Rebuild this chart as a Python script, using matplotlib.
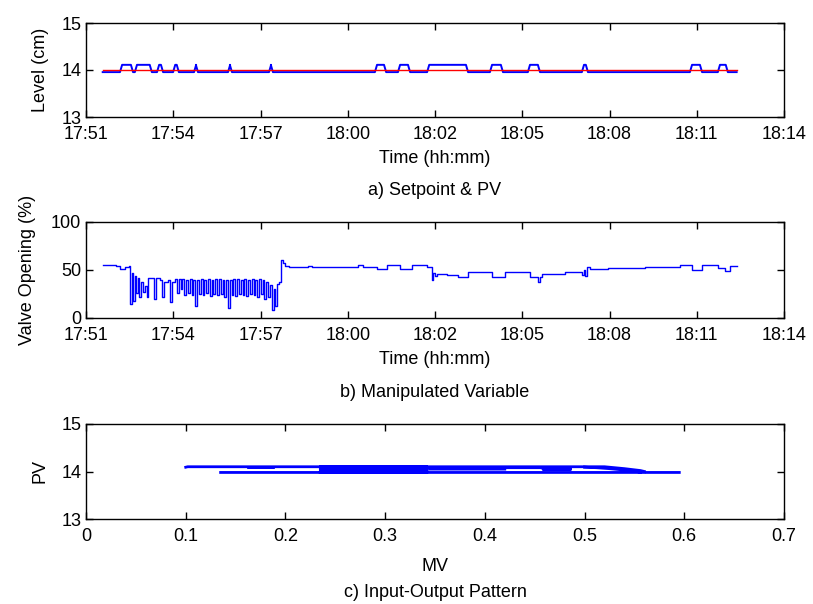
import numpy as np
import matplotlib
matplotlib.use("Agg")
import matplotlib.pyplot as plt

plt.rcParams['font.family'] = ['Liberation Sans', 'DejaVu Sans']

# time axis: minutes after 17:51
time_labels = ['17:51', '17:54', '17:57', '18:00', '18:02', '18:05', '18:08', '18:11', '18:14']
t_start = 0.55
t_end = 21.44
setpoint = 14.0

# PV: baseline level and bumps (minutes)
pv_low = 13.955
pv_high = 14.11
bump_on = [1.12, 1.61, 2.34, 2.87, 3.56, 4.68, 6.03, 9.52, 10.28, 11.24, 13.31, 14.56, 16.34, 19.90, 20.82]
bump_off = [1.55, 2.17, 2.54, 3.06, 3.69, 4.81, 6.16, 9.89, 10.68, 12.59, 13.74, 14.96, 16.54, 20.30, 21.15]

# MV (valve opening %) breakpoints
mv_t = [0.55, 1.00, 1.12, 1.30, 1.42,
        1.45, 1.50, 1.55, 1.60, 1.66, 1.70, 1.76, 1.82, 1.88, 1.94, 2.00, 2.05, 2.25, 2.32,
        2.45, 2.50, 2.56, 2.70, 2.78, 2.84, 2.92, 3.00, 3.05, 3.12, 3.17, 3.24, 3.30, 3.36,
        3.42, 3.48, 3.54, 3.60, 3.66, 3.72, 3.78, 3.84, 3.90, 3.96, 4.02, 4.08, 4.14, 4.20,
        4.26, 4.32, 4.38, 4.44, 4.50, 4.56, 4.62, 4.68, 4.74, 4.80, 4.86, 4.92, 4.98, 5.04,
        5.10, 5.16, 5.22, 5.28, 5.34, 5.40, 5.46, 5.52, 5.58, 5.64, 5.70, 5.76, 5.82, 5.88,
        5.94, 6.00, 6.06, 6.12, 6.18, 6.24, 6.30, 6.36, 6.44, 6.50, 6.56, 6.70, 7.30, 7.45,
        8.04, 8.97, 9.14, 9.58, 9.91, 10.35, 10.73, 11.22, 11.39, 11.44, 11.50, 11.55, 11.88,
        12.27, 12.60, 13.37, 13.81, 14.63, 14.90, 14.97, 15.01, 15.78, 16.33, 16.40, 16.45,
        16.50, 16.61, 17.21, 18.42, 19.57, 19.96, 20.29, 20.83, 21.05, 21.22, 21.44]
mv_v = [55, 54, 51, 53, 54,
        15, 47, 18, 44, 26, 42, 22, 38, 27, 33, 22, 42, 20, 42,
        40, 22, 38, 40, 17, 38, 41, 26, 41, 30, 41, 24, 40, 26,
        41, 24, 40, 13, 40, 25, 41, 24, 40, 26, 41, 23, 40, 25,
        41, 24, 41, 25, 40, 22, 40, 10, 40, 24, 41, 23, 41, 25,
        40, 24, 41, 23, 40, 25, 41, 24, 40, 22, 41, 25, 40, 20,
        38, 22, 34, 8, 30, 12, 35, 38, 60, 57, 54, 53, 54, 53,
        53, 55, 53, 51, 55, 51, 55, 53, 40, 47, 44, 46, 45,
        43, 48, 43, 48, 43, 38, 43, 46, 48, 45, 50, 44,
        53, 51, 52, 53, 55, 50, 55, 52, 49, 54, 54]

# input-output pattern (MV fraction vs PV), segments separated by nan
io_mv = [0.135, 0.595, np.nan,
         0.100, 0.102, 0.520, 0.530, 0.540, 0.548, 0.556, 0.560, np.nan,
         0.163, 0.188, np.nan,
         0.235, 0.342, 0.342, 0.235, 0.235, 0.342, 0.342, 0.235, 0.235, 0.342, 0.342, 0.235,
         0.235, 0.342, 0.342, 0.235, np.nan,
         0.342, 0.456, 0.459, 0.486, 0.486, 0.459, np.nan,
         0.345, 0.420, np.nan,
         0.500, 0.512, 0.525, 0.540, 0.556]
io_pv = [13.98, 13.98, np.nan,
         14.09, 14.10, 14.10, 14.08, 14.06, 14.04, 14.02, 14.00, np.nan,
         14.085, 14.085, np.nan,
         13.98, 13.98, 14.00, 14.00, 14.02, 14.02, 14.04, 14.04, 14.06, 14.06, 14.08, 14.08,
         14.10, 14.10, 14.09, 14.09, np.nan,
         14.08, 14.08, 14.06, 14.06, 14.04, 14.04, np.nan,
         14.05, 14.05, np.nan,
         14.09, 14.08, 14.06, 14.03, 13.99]

# build PV trace from bumps
pv_t = [t_start]
pv_v = [pv_low]
ramp = 0.07
for a, b in zip(bump_on, bump_off):
    pv_t += [a, a + ramp, b - ramp, b]
    pv_v += [pv_low, pv_high, pv_high, pv_low]
pv_t.append(t_end)
pv_v.append(pv_low)

W, H = 813, 604
fig = plt.figure(figsize=(W / 100, H / 100), dpi=100)
fs = 13


def box(top, bottom):
    ax = fig.add_axes([86 / W, 1 - bottom / H, 698 / W, (bottom - top) / H])
    ax.tick_params(direction='in', top=True, right=True, length=5, labelsize=fs, width=1)
    ax.tick_params(axis='x', pad=6.5)
    for s in ax.spines.values():
        s.set_linewidth(1)
    return ax


time_ticks = np.linspace(0, 23, len(time_labels))

# a) setpoint & PV
ax1 = box(23, 117)
ax1.plot(pv_t, pv_v, color='b', lw=1.4)
ax1.plot([t_start, t_end], [setpoint, setpoint], color='r', lw=1.0)
ax1.set_xlim(0, 23)
ax1.set_ylim(13, 15)
ax1.set_yticks([13, 14, 15])
ax1.set_xticks(time_ticks)
ax1.set_xticklabels(time_labels)
ax1.set_xlabel('Time (hh:mm)', fontsize=fs, labelpad=5)
ax1.text(0.5, -0.78, 'a) Setpoint & PV', transform=ax1.transAxes, ha='center', va='center', fontsize=fs)
fig.text(40 / W, 1 - 70 / H, 'Level (cm)', rotation=90, ha='center', va='center', fontsize=fs)

# b) manipulated variable
ax2 = box(222, 318)
ax2.plot(mv_t, mv_v, color='b', lw=1.0, drawstyle='steps-post')
ax2.set_xlim(0, 23)
ax2.set_ylim(0, 100)
ax2.set_yticks([0, 50, 100])
ax2.set_xticks(time_ticks)
ax2.set_xticklabels(time_labels)
ax2.set_xlabel('Time (hh:mm)', fontsize=fs, labelpad=5)
ax2.text(0.5, -0.78, 'b) Manipulated Variable', transform=ax2.transAxes, ha='center', va='center', fontsize=fs)
fig.text(28 / W, 1 - 270 / H, 'Valve Opening (%)', rotation=90, ha='center', va='center', fontsize=fs)

# c) input-output pattern
ax3 = box(424, 519)
ax3.plot(io_mv, io_pv, color='b', lw=2.0)
ax3.set_xlim(0, 0.7)
ax3.set_ylim(13, 15)
ax3.set_yticks([13, 14, 15])
ax3.set_xticks(np.arange(0, 0.71, 0.1))
ax3.set_xticklabels(['0', '0.1', '0.2', '0.3', '0.4', '0.5', '0.6', '0.7'])
ax3.set_xlabel('MV', fontsize=fs, labelpad=9)
ax3.text(0.5, -0.77, 'c) Input-Output Pattern', transform=ax3.transAxes, ha='center', va='center', fontsize=fs)
fig.text(40 / W, 1 - 471 / H, 'PV', rotation=90, ha='center', va='center', fontsize=fs)

fig.savefig('out.png', dpi=100)
